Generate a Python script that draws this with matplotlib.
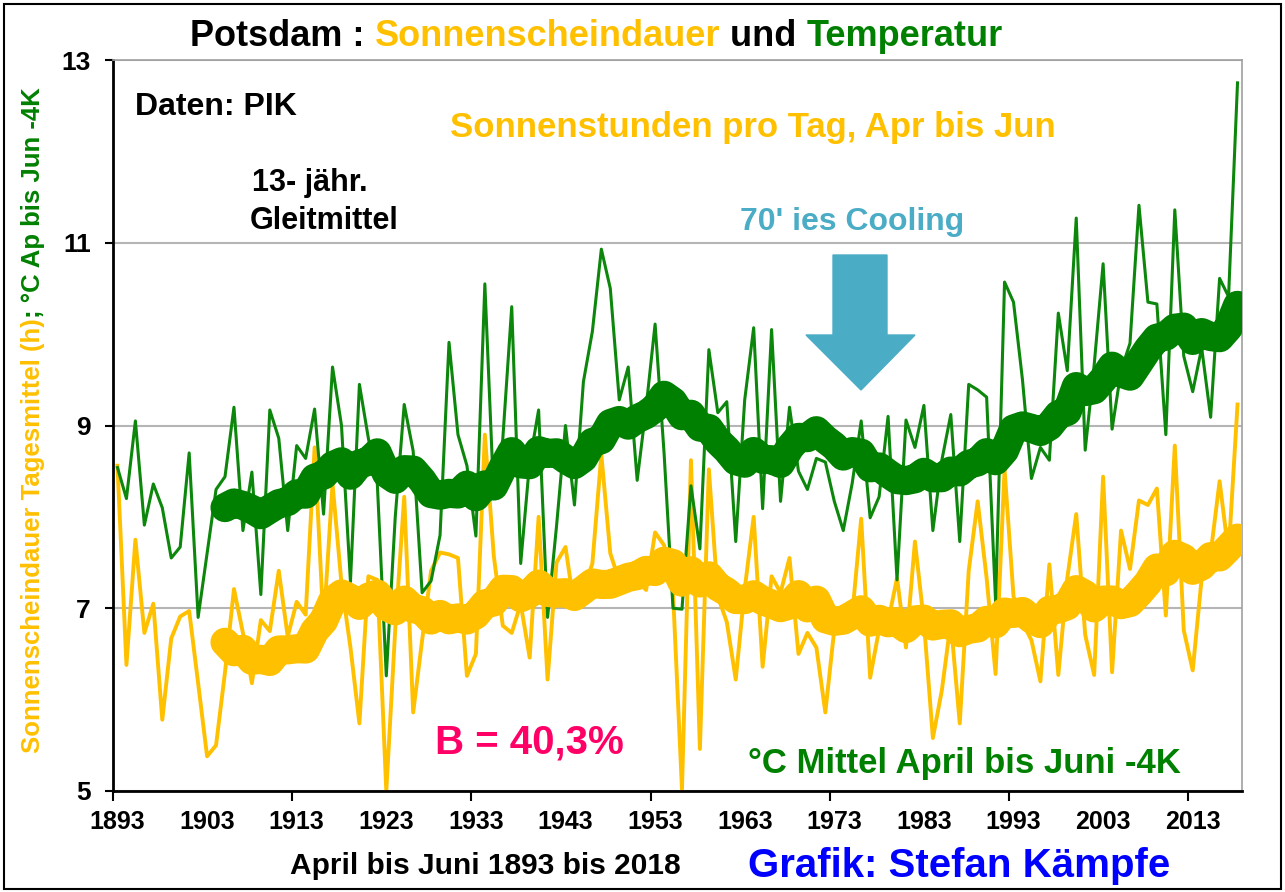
import matplotlib
matplotlib.use('Agg')
import matplotlib.pyplot as plt
import numpy as np
import pandas as pd
from matplotlib.patches import Polygon, Rectangle

plt.rcParams.update({'font.family': 'Liberation Sans', 'font.weight': 'bold'})

years = list(range(1893, 2019))

# Sonnenscheindauer, Tagesmittel April-Juni (h)
sonne = [8.56, 6.38, 7.75, 6.73, 7.05, 5.78, 6.67, 6.91, 6.97, 6.18,
         5.38, 5.50, 6.30, 7.21, 6.73, 6.18, 6.87, 6.75, 7.41, 6.69,
         7.07, 6.93, 8.76, 6.81, 8.36, 7.27, 6.57, 5.74, 7.35, 7.31,
         5.00, 6.77, 8.22, 5.86, 6.65, 7.41, 7.61, 7.59, 7.55, 6.26,
         6.50, 8.90, 7.57, 6.81, 6.73, 7.05, 6.46, 8.00, 6.22, 7.50,
         7.67, 7.00, 7.20, 7.49, 8.68, 7.60, 7.30, 7.23, 7.30, 7.20,
         7.83, 7.69, 7.17, 5.02, 8.62, 5.46, 8.52, 7.13, 6.85, 6.22,
         7.21, 8.00, 6.36, 7.35, 7.17, 7.55, 6.50, 6.73, 6.57, 5.86,
         6.77, 7.01, 6.93, 7.98, 6.24, 6.77, 6.85, 7.33, 6.57, 7.73,
         6.85, 5.58, 6.10, 6.85, 5.74, 7.41, 8.17, 7.33, 6.28, 8.52,
         7.13, 6.85, 6.65, 6.20, 7.48, 6.27, 7.33, 8.03, 6.71, 6.27,
         8.44, 6.30, 7.85, 7.43, 8.18, 8.13, 8.31, 6.92, 8.78, 6.76,
         6.32, 7.33, 7.60, 8.39, 7.60, 9.23]

# Temperatur April-Juni minus 4 K (°C)
temp = [8.54, 8.20, 9.05, 7.91, 8.36, 8.10, 7.55, 7.67, 8.70, 6.90,
        7.60, 8.30, 8.44, 9.20, 7.85, 8.49, 7.15, 9.17, 8.86, 7.85,
        8.78, 8.64, 9.18, 8.03, 9.64, 9.00, 7.29, 9.45, 8.86, 8.36,
        6.26, 8.00, 9.23, 8.72, 7.17, 7.30, 7.80, 9.91, 8.90, 8.56,
        7.79, 10.55, 8.20, 8.85, 10.30, 7.49, 8.60, 9.17, 6.90, 7.90,
        9.00, 8.13, 9.48, 10.03, 10.93, 10.50, 9.28, 9.64, 8.40, 9.20,
        10.11, 8.70, 7.00, 6.99, 8.34, 7.65, 9.83, 9.14, 9.26, 7.73,
        9.28, 10.07, 8.09, 10.05, 8.17, 9.20, 8.50, 8.30, 8.64, 8.60,
        8.17, 7.85, 8.37, 9.05, 7.99, 8.22, 9.10, 7.31, 9.06, 8.76,
        9.22, 7.85, 8.62, 9.12, 7.73, 9.45, 9.39, 9.31, 7.07, 10.57,
        10.35, 9.50, 8.42, 8.76, 8.62, 10.23, 9.60, 11.27, 8.73, 9.66,
        10.77, 8.96, 9.60, 9.90, 11.41, 10.35, 10.33, 8.90, 11.36, 9.76,
        9.37, 9.85, 9.09, 10.61, 10.41, 12.75]

window = 13  # 13-jaehriges Gleitmittel
sonne_ma = pd.Series(sonne, index=years).rolling(window).mean()
temp_ma = pd.Series(temp, index=years).rolling(window).mean()

yellow = '#FFC000'
green = '#008000'
W, H = 1285, 892


def fx(px):
    return px / W


def fy(py):
    return 1 - py / H


fig = plt.figure(figsize=(W / 100, H / 100), dpi=100)
ax = fig.add_axes([fx(113), fy(791), (1242 - 113) / W, (791 - 60) / H])

ax.plot(years, sonne, color=yellow, lw=2.8, zorder=2)
ax.plot(years, temp, color='#0C870C', lw=2.2, zorder=3)
ax.plot(sonne_ma.index, sonne_ma.values, color=yellow, lw=21,
        solid_capstyle='round', solid_joinstyle='round', zorder=4)
ax.plot(temp_ma.index, temp_ma.values, color=green, lw=21,
        solid_capstyle='round', solid_joinstyle='round', zorder=5)

ax.set_xlim(1892.5, 2018.5)
ax.set_ylim(5, 13)
ax.set_yticks([5, 7, 9, 11, 13])
ax.set_xticks(np.arange(1893, 2014, 10))
ax.set_xticks(np.arange(1892.5, 2019, 20), minor=True)
ax.tick_params(axis='x', which='major', length=0, labelsize=18, pad=14)
ax.tick_params(axis='x', which='minor', length=7, width=1.5)
ax.tick_params(axis='y', length=6, width=1.5, labelsize=19, pad=10)
ax.yaxis.grid(True, color='#b5b5b5', lw=1.5)
ax.set_axisbelow(True)
for s in ['left', 'bottom']:
    ax.spines[s].set_linewidth(2)
for s in ['top', 'right']:
    ax.spines[s].set_color('#a0a0a0')
    ax.spines[s].set_linewidth(1.2)

renderer = fig.canvas.get_renderer()


def multicolor(parts, x, y, size, vertical=False):
    # parts placed one after another, measuring each piece
    for s, c in parts:
        if vertical:
            t = fig.text(fx(x), fy(y), s, color=c, fontsize=size, rotation=90,
                         rotation_mode='anchor', ha='left', va='center')
            bb = t.get_window_extent(renderer)
            y -= bb.height
        else:
            t = fig.text(fx(x), fy(y), s, color=c, fontsize=size,
                         ha='left', va='center')
            bb = t.get_window_extent(renderer)
            x += bb.width


multicolor([('Potsdam : ', 'black'), ('Sonnenscheindauer', yellow),
            (' und ', 'black'), ('Temperatur', green)], 190, 37, 26)
multicolor([('Sonnenscheindauer Tagesmittel (h)', yellow),
            ('; °C Ap bis Jun -4K', green)], 33, 753, 18.5, vertical=True)

fig.text(fx(135), fy(107), 'Daten: PIK', fontsize=23, color='black', va='center')
fig.text(fx(450), fy(128), 'Sonnenstunden pro Tag, Apr bis Jun', fontsize=25,
         color=yellow, va='center')
fig.text(fx(252), fy(183), '13- jähr.', fontsize=22, color='black', va='center')
fig.text(fx(250), fy(221), 'Gleitmittel', fontsize=22, color='black', va='center')
fig.text(fx(740), fy(222), "70' ies Cooling", fontsize=23, color='#4BACC6', va='center')
fig.text(fx(435), fy(742), 'B = 40,3%', fontsize=29, color='#FF0066', va='center')
fig.text(fx(748), fy(764), '°C Mittel April bis Juni -4K', fontsize=25,
         color=green, va='center')
fig.text(fx(290), fy(866), 'April bis Juni 1893 bis 2018', fontsize=21.5,
         color='black', va='center')
fig.text(fx(748), fy(866), 'Grafik: Stefan Kämpfe', fontsize=29,
         color='#0000FF', va='center')

arrow_px = [(833, 255), (887, 255), (887, 335), (915, 335), (861, 390),
            (806, 335), (833, 335)]
fig.patches.append(Polygon([(fx(a), fy(b)) for a, b in arrow_px], closed=True,
                           transform=fig.transFigure, color='#4BACC6', zorder=6))
fig.patches.append(Rectangle((fx(4), fy(889)), (1281 - 4) / W, (889 - 4) / H,
                             transform=fig.transFigure, fill=False,
                             edgecolor='black', lw=1.5))

fig.savefig('out.png', dpi=100)
